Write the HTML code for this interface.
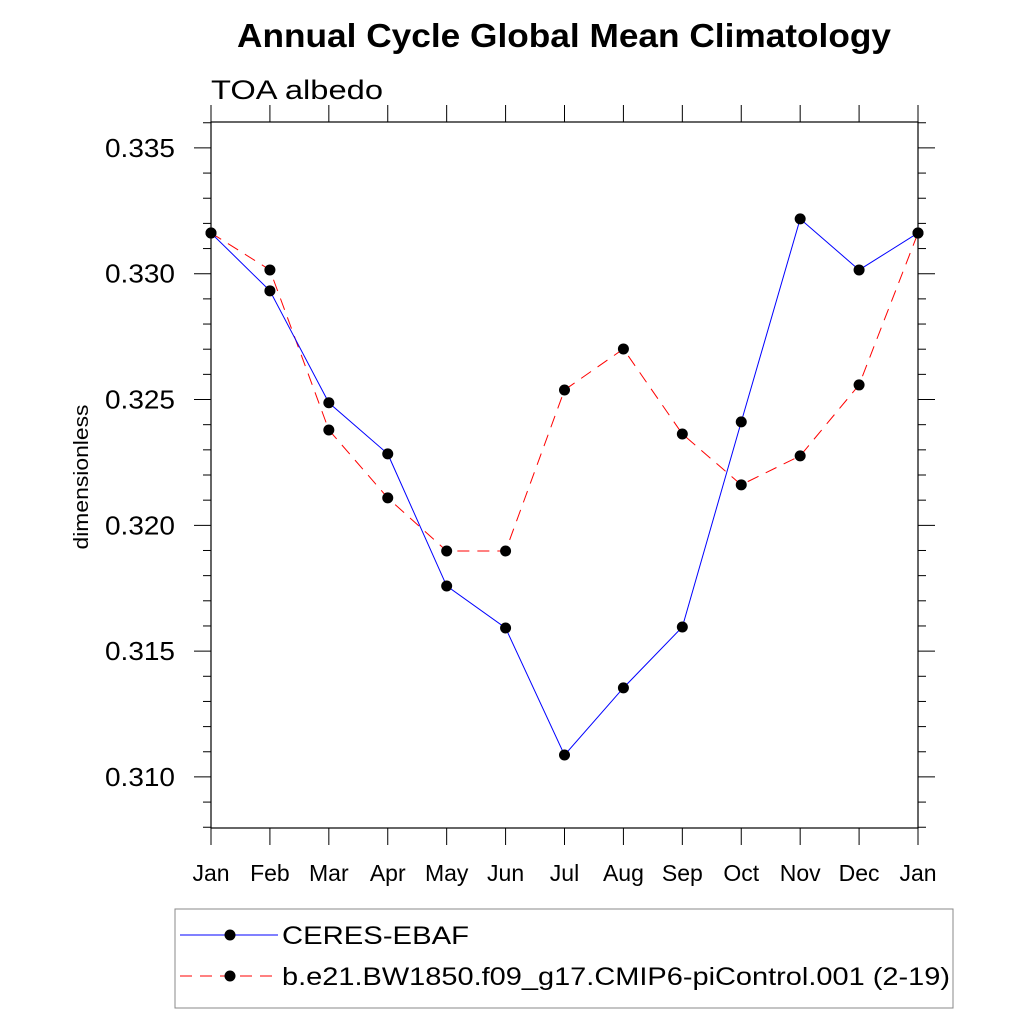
<!DOCTYPE html>
<html><head><meta charset="utf-8"><style>
html,body{margin:0;padding:0;background:#fff;}
svg text{font-family:"Liberation Sans",Arial,sans-serif;}
</style></head><body>
<svg id="chart" width="1024" height="1024" viewBox="0 0 1024 1024">
<text x="237" y="47" font-size="33" font-weight="bold" textLength="654" lengthAdjust="spacingAndGlyphs">Annual Cycle Global Mean Climatology</text>
<text x="211" y="99" font-size="27" textLength="172" lengthAdjust="spacingAndGlyphs">TOA albedo</text>
<text transform="translate(88,477) rotate(-90)" text-anchor="middle" font-size="20" textLength="145" lengthAdjust="spacingAndGlyphs">dimensionless</text>
<g id="axes"></g>
<g id="series"></g>
<rect x="175" y="909" width="778" height="99" fill="#fff" stroke="#888" stroke-width="1"/>
<g>
<line x1="180" y1="935" x2="278" y2="935" stroke="#0000ff" stroke-width="1"/>
<circle cx="230" cy="935" r="5.5" fill="#000"/>
<text x="282" y="944" font-size="25" textLength="187" lengthAdjust="spacingAndGlyphs">CERES-EBAF</text></g>
<g>
<line x1="180" y1="976" x2="278" y2="976" stroke="#ff0000" stroke-width="1" stroke-dasharray="12,8"/>
<circle cx="230" cy="976" r="5.5" fill="#000"/>
<text x="282" y="985" font-size="25" textLength="668" lengthAdjust="spacingAndGlyphs">b.e21.BW1850.f09_g17.CMIP6-piControl.001 (2-19)</text></g>
</svg>
<script>
const months = ["Jan","Feb","Mar","Apr","May","Jun","Jul","Aug","Sep","Oct","Nov","Dec","Jan"];
const ceres = [0.33162,0.32932,0.32487,0.32284,0.31759,0.31592,0.31087,0.31354,0.31596,0.32411,0.33218,0.33015,0.33162];
const model = [0.33162,0.33015,0.32379,0.32109,0.31898,0.31898,0.32538,0.32701,0.32363,0.32161,0.32276,0.32558,0.33162];
const yTicks = [0.310,0.315,0.320,0.325,0.330,0.335];
const yTickLabels = ["0.310","0.315","0.320","0.325","0.330","0.335"];
const L=211,R=918,T=122,B=828, yMin=0.30797, yMax=0.33603;
const NS="http://www.w3.org/2000/svg";
function xs(i){return L+(R-L)*i/(months.length-1);}
function ys(v){return B-(v-yMin)/(yMax-yMin)*(B-T);}
function mk(tag,attrs,parent){const e=document.createElementNS(NS,tag);for(const k in attrs)e.setAttribute(k,attrs[k]);parent.appendChild(e);return e;}
const ax=document.getElementById('axes');
const frame=mk('rect',{x:L,y:T,width:R-L,height:B-T,fill:'none',stroke:'#000','stroke-width':1.2},ax);


for(let v=0.308;v<=0.336001;v+=0.001){
  const y=ys(v); const major=Math.abs(Math.round(v*200)-v*200)<1e-6;
  const len=major?17:8;
  mk('line',{x1:L-len,y1:y,x2:L,y2:y,stroke:'#000','stroke-width':1},ax);
  mk('line',{x1:R,y1:y,x2:R+len,y2:y,stroke:'#000','stroke-width':1},ax);
}
yTicks.forEach((v,i)=>{
  const t=mk('text',{x:L-36,y:ys(v)+9,'text-anchor':'end','font-size':26,textLength:70,lengthAdjust:'spacingAndGlyphs'},ax);
  t.textContent=yTickLabels[i];
  
  
});
months.forEach((m,i)=>{
  const x=xs(i);
  mk('line',{x1:x,y1:B,x2:x,y2:B+17,stroke:'#000','stroke-width':1},ax);
  mk('line',{x1:x,y1:T-17,x2:x,y2:T,stroke:'#000','stroke-width':1},ax);
  const t=mk('text',{x:x,y:881,'text-anchor':'middle','font-size':23},ax);
  t.textContent=m;
  
  
});
const sg=document.getElementById('series');
function drawSeries(vals,color,dash,name){
  const g=mk('g',{},sg);
  
  
  const pts=vals.map((v,i)=>xs(i)+','+ys(v)).join(' ');
  const attrs={points:pts,fill:'none',stroke:color,'stroke-width':1};
  if(dash)attrs['stroke-dasharray']=dash;
  mk('polyline',attrs,g);
  vals.forEach((v,i)=>{
    const c=mk('circle',{cx:xs(i),cy:ys(v),r:5.5,fill:'#000'},g);
    
    
  });
}
drawSeries(model,'#ff0000','12,8','model-series');
drawSeries(ceres,'#0000ff',null,'ceres-series');
</script>
</body></html>
